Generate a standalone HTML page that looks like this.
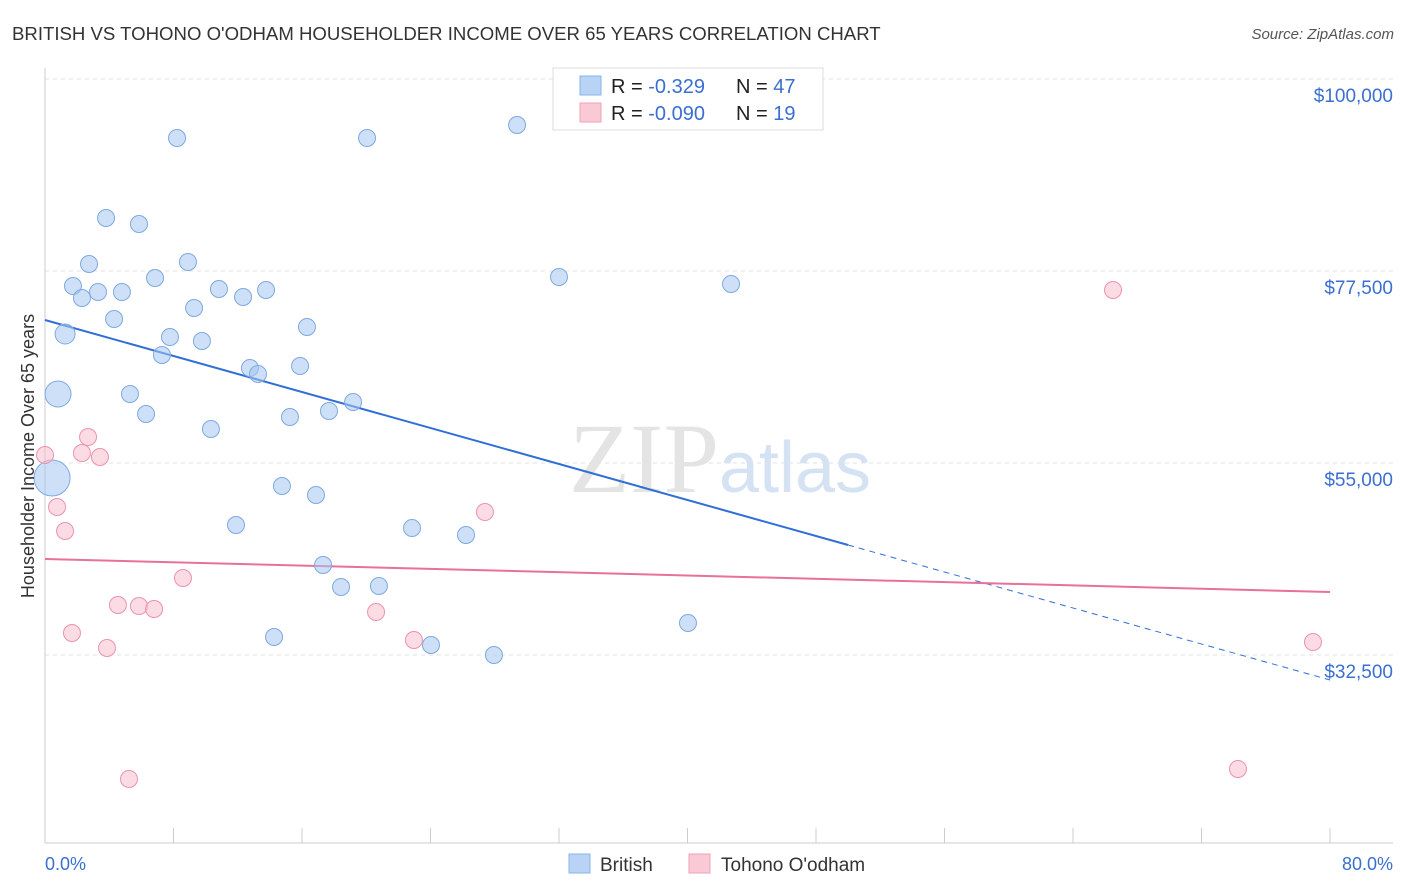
<!DOCTYPE html>
<html><head><meta charset="utf-8"><style>
body{margin:0;background:#fff;font-family:"Liberation Sans",sans-serif;}
svg{display:block}
</style></head><body>
<svg id="chart" width="1406" height="892">
<text x="12" y="40" font-size="18.6" fill="#333">BRITISH VS TOHONO O'ODHAM HOUSEHOLDER INCOME OVER 65 YEARS CORRELATION CHART</text>
<text x="1394" y="39" font-size="15" fill="#555" text-anchor="end" font-style="italic">Source: ZipAtlas.com</text>
<text x="720" y="492" font-size="100" fill="#e4e4e4" text-anchor="middle" font-family="Liberation Serif,serif">ZIP<tspan fill="#d4e2f4" font-family="Liberation Sans,sans-serif" font-size="72">atlas</tspan></text>
<g id="grid"></g><g id="axes"></g><g id="trends"></g><g id="pts"></g>
<text transform="translate(34,456) rotate(-90)" font-size="18" fill="#333" text-anchor="middle">Householder Income Over 65 years</text>
<text x="45" y="870" font-size="18" fill="#3a6fd0">0.0%</text>
<text x="1393" y="870" font-size="18" fill="#3a6fd0" text-anchor="end">80.0%</text>
<g>
<rect x="553" y="68" width="270" height="62" fill="#fff" stroke="#ddd"/>
<rect x="580" y="76" width="21" height="19" fill="#b8d3f5" stroke="#8ab4e8"/>
<rect x="580" y="103" width="21" height="19" fill="#fac9d6" stroke="#f0a0b8"/>
<text x="611" y="93" font-size="20" fill="#222">R = <tspan fill="#3a6fd0"> -0.329</tspan><tspan x="736">N = </tspan><tspan fill="#3a6fd0">47</tspan></text>
<text x="611" y="120" font-size="20" fill="#222">R = <tspan fill="#3a6fd0">-0.090</tspan><tspan x="736">N = </tspan><tspan fill="#3a6fd0"> 19</tspan></text>
</g>
<g>
<rect x="569" y="854" width="21" height="19" fill="#b8d3f5" stroke="#8ab4e8"/>
<text x="600" y="871" font-size="19" fill="#333">British</text>
<rect x="689" y="854" width="21" height="19" fill="#fac9d6" stroke="#f0a0b8"/>
<text x="721" y="871" font-size="19" fill="#333">Tohono O'odham</text>
</g>
</svg>
<script>
const yTicks=[32500,55000,77500,100000];
const yTickLabels=["$32,500","$55,000","$77,500","$100,000"];
const britishX=[8.22,20.05,29.39,3.80,5.85,2.74,8.90,6.85,32.00,42.71,1.74,3.30,4.79,2.30,10.83,12.33,13.76,9.28,4.30,16.31,1.25,7.78,9.77,7.28,12.76,13.26,15.88,0.81,5.29,6.29,19.18,17.68,15.25,10.33,0.44,14.75,16.87,11.89,22.85,26.21,17.31,18.43,20.79,14.26,24.03,27.95,40.03];
const britishY=[93086,93086,94609,83711,83008,78320,78555,76680,76797,75977,75742,75039,75039,74336,75391,74453,75273,73164,71875,70938,70117,69766,69297,67656,66133,65430,66367,63086,63086,60742,62148,61094,60391,58984,53242,52305,51250,47734,47383,46562,43047,40469,40586,34609,33672,32500,36250];
const britishR=[8.5,8.5,8.5,8.5,8.5,8.5,8.5,8.5,8.5,8.5,8.5,8.5,8.5,8.5,8.5,8.5,8.5,8.5,8.5,8.5,10,8.5,8.5,8.5,8.5,8.5,8.5,13,8.5,8.5,8.5,8.5,8.5,8.5,18,8.5,8.5,8.5,8.5,8.5,8.5,8.5,8.5,8.5,8.5,8.5,8.5];
const tohonoX=[66.49,2.68,2.30,3.42,0,0.75,1.25,27.39,8.59,4.54,5.85,6.79,20.61,1.68,22.97,3.86,78.94,5.23,74.27];
const tohonoY=[75273,58047,56172,55703,55938,49844,47031,49258,41523,38359,38242,37891,37539,35078,34258,33320,34023,17969,19141];
const britishTrend=[71758,29570]; const britishSolidEnd=50;
const tohonoTrend=[43750,39883];
const NS="http://www.w3.org/2000/svg";
const xs=v=>45+v*1285/80;
const ys=v=>463-(v-55000)*192/22500;
function mk(tag,attrs,parent){const e=document.createElementNS(NS,tag);for(const k in attrs)e.setAttribute(k,attrs[k]);document.getElementById(parent).appendChild(e);return e;}
yTicks.forEach((t,i)=>{
 const l=mk('line',{x1:45,x2:1393,y1:ys(t),y2:ys(t),stroke:'#e2e2e2','stroke-dasharray':'4,4'},'grid');
 
 
 const tx=mk('text',{x:1393,y:ys(t)+23,'font-size':19,fill:'#3a6fd0','text-anchor':'end'},'grid');
 tx.textContent=yTickLabels[i];
 
 
});
mk('line',{x1:45,x2:1393,y1:79,y2:79,stroke:'#e2e2e2','stroke-dasharray':'4,4'},'grid');
const ya=mk('line',{x1:45,x2:45,y1:68,y2:843,stroke:'#ccc'},'axes');


const xa=mk('line',{x1:45,x2:1393,y1:843,y2:843,stroke:'#ccc'},'axes');


for(let i=0;i<=10;i++){const t=mk('line',{x1:xs(i*8),x2:xs(i*8),y1:828,y2:843,stroke:'#ccc'},'axes');
 
 }
const bAt=x=>britishTrend[0]+(britishTrend[1]-britishTrend[0])*x/80;
const b1=mk('line',{x1:xs(0),y1:ys(bAt(0)),x2:xs(britishSolidEnd),y2:ys(bAt(britishSolidEnd)),stroke:'#2f6fd6','stroke-width':2},'trends');


const b2=mk('line',{x1:xs(britishSolidEnd),y1:ys(bAt(britishSolidEnd)),x2:xs(80),y2:ys(bAt(80)),stroke:'#2f6fd6','stroke-width':1,'stroke-dasharray':'6,5'},'trends');


const p1=mk('line',{x1:xs(0),y1:ys(tohonoTrend[0]),x2:xs(80),y2:ys(tohonoTrend[1]),stroke:'#e8709a','stroke-width':2},'trends');


britishX.forEach((x,i)=>{const c=mk('circle',{cx:xs(x),cy:ys(britishY[i]),r:britishR[i],fill:'rgba(164,198,240,0.55)',stroke:'#7fa9e0','stroke-width':1},'pts');
 
 });
tohonoX.forEach((x,i)=>{const c=mk('circle',{cx:xs(x),cy:ys(tohonoY[i]),r:8.5,fill:'rgba(248,190,206,0.55)',stroke:'#eb93ae','stroke-width':1},'pts');
 
 });
</script>
</body></html>
